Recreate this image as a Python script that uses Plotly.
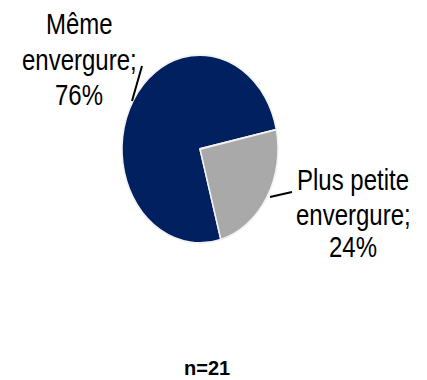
import plotly.graph_objects as go

# Survey result: scale of the project compared to the previous one
categories = ["Même envergure", "Plus petite envergure"]
shares = [76, 24]
slice_colors = ["#002060", "#A9A9A9"]
label_lines = [["Même", "envergure;", "76%"], ["Plus petite", "envergure;", "24%"]]
sample_note = "n=21"

W, H = 427, 380
FONT = "Liberation Sans, Arial, sans-serif"
STRETCH = 1.2  # vertical stretch applied to the pie and its labels

# pie placement (pixels)
cx, cy, rx, ry = 200, 149, 78, 94

fig = go.Figure(
    go.Pie(
        labels=categories,
        values=shares,
        sort=False,
        direction="clockwise",
        rotation=164.5,
        marker=dict(colors=slice_colors, line=dict(color="#F2F2F2", width=1.5)),
        textinfo="none",
        hoverinfo="label+percent",
        showlegend=False,
        domain=dict(x=[(cx - rx) / W, (cx + rx) / W],
                    y=[1 - (cy + rx) / H, 1 - (cy - rx) / H]),
    )
)

# category labels, one annotation per line
label_pos = [
    (79, [24, 59, 94]),
    (353, [180, 214, 246]),
]
n_labels = 0
for lines, (x, ys) in zip(label_lines, label_pos):
    for text, y in zip(lines, ys):
        fig.add_annotation(
            x=x / W, y=1 - y / H, xref="paper", yref="paper",
            text=text, showarrow=False, xanchor="center", yanchor="middle",
            font=dict(family=FONT, size=24, color="black"),
        )
        n_labels += 1

# leader lines from labels to the slices
for (x0, y0, x1, y1) in [(142, 66, 132, 101), (292, 192, 270, 197)]:
    fig.add_shape(type="line", xref="paper", yref="paper",
                  x0=x0 / W, y0=1 - y0 / H, x1=x1 / W, y1=1 - y1 / H,
                  line=dict(color="black", width=2))

fig.add_annotation(
    x=207 / W, y=1 - 368 / H, xref="paper", yref="paper",
    text="<b>" + sample_note + "</b>", showarrow=False,
    xanchor="center", yanchor="middle",
    font=dict(family=FONT, size=20, color="black"),
)

fig.update_layout(
    width=W, height=H,
    margin=dict(l=0, r=0, t=0, b=0),
    paper_bgcolor="white", plot_bgcolor="white",
)

stretch_js = """
var gd = document.getElementById('{plot_id}');
function stretch() {
  var layer = gd.querySelector('.pielayer');
  if (layer) {
    layer.setAttribute('transform', 'translate(%g,%g) scale(1,%g) translate(%g,%g)');
  }
  gd.querySelectorAll('.annotation').forEach(function (g) {
    var i = +g.getAttribute('data-index');
    if (i < %d) {
      var t = g.querySelector('text');
      if (t) {
        t.style.transformBox = 'fill-box';
        t.style.transformOrigin = 'center';
        t.style.transform = 'scaleY(%g)';
      }
    }
  });
}
stretch();
gd.on('plotly_afterplot', stretch);
""" % (cx, cy, ry / rx, -cx, -cy, n_labels, STRETCH)

fig.write_html("out.html", config={"displayModeBar": False}, post_script=stretch_js)
